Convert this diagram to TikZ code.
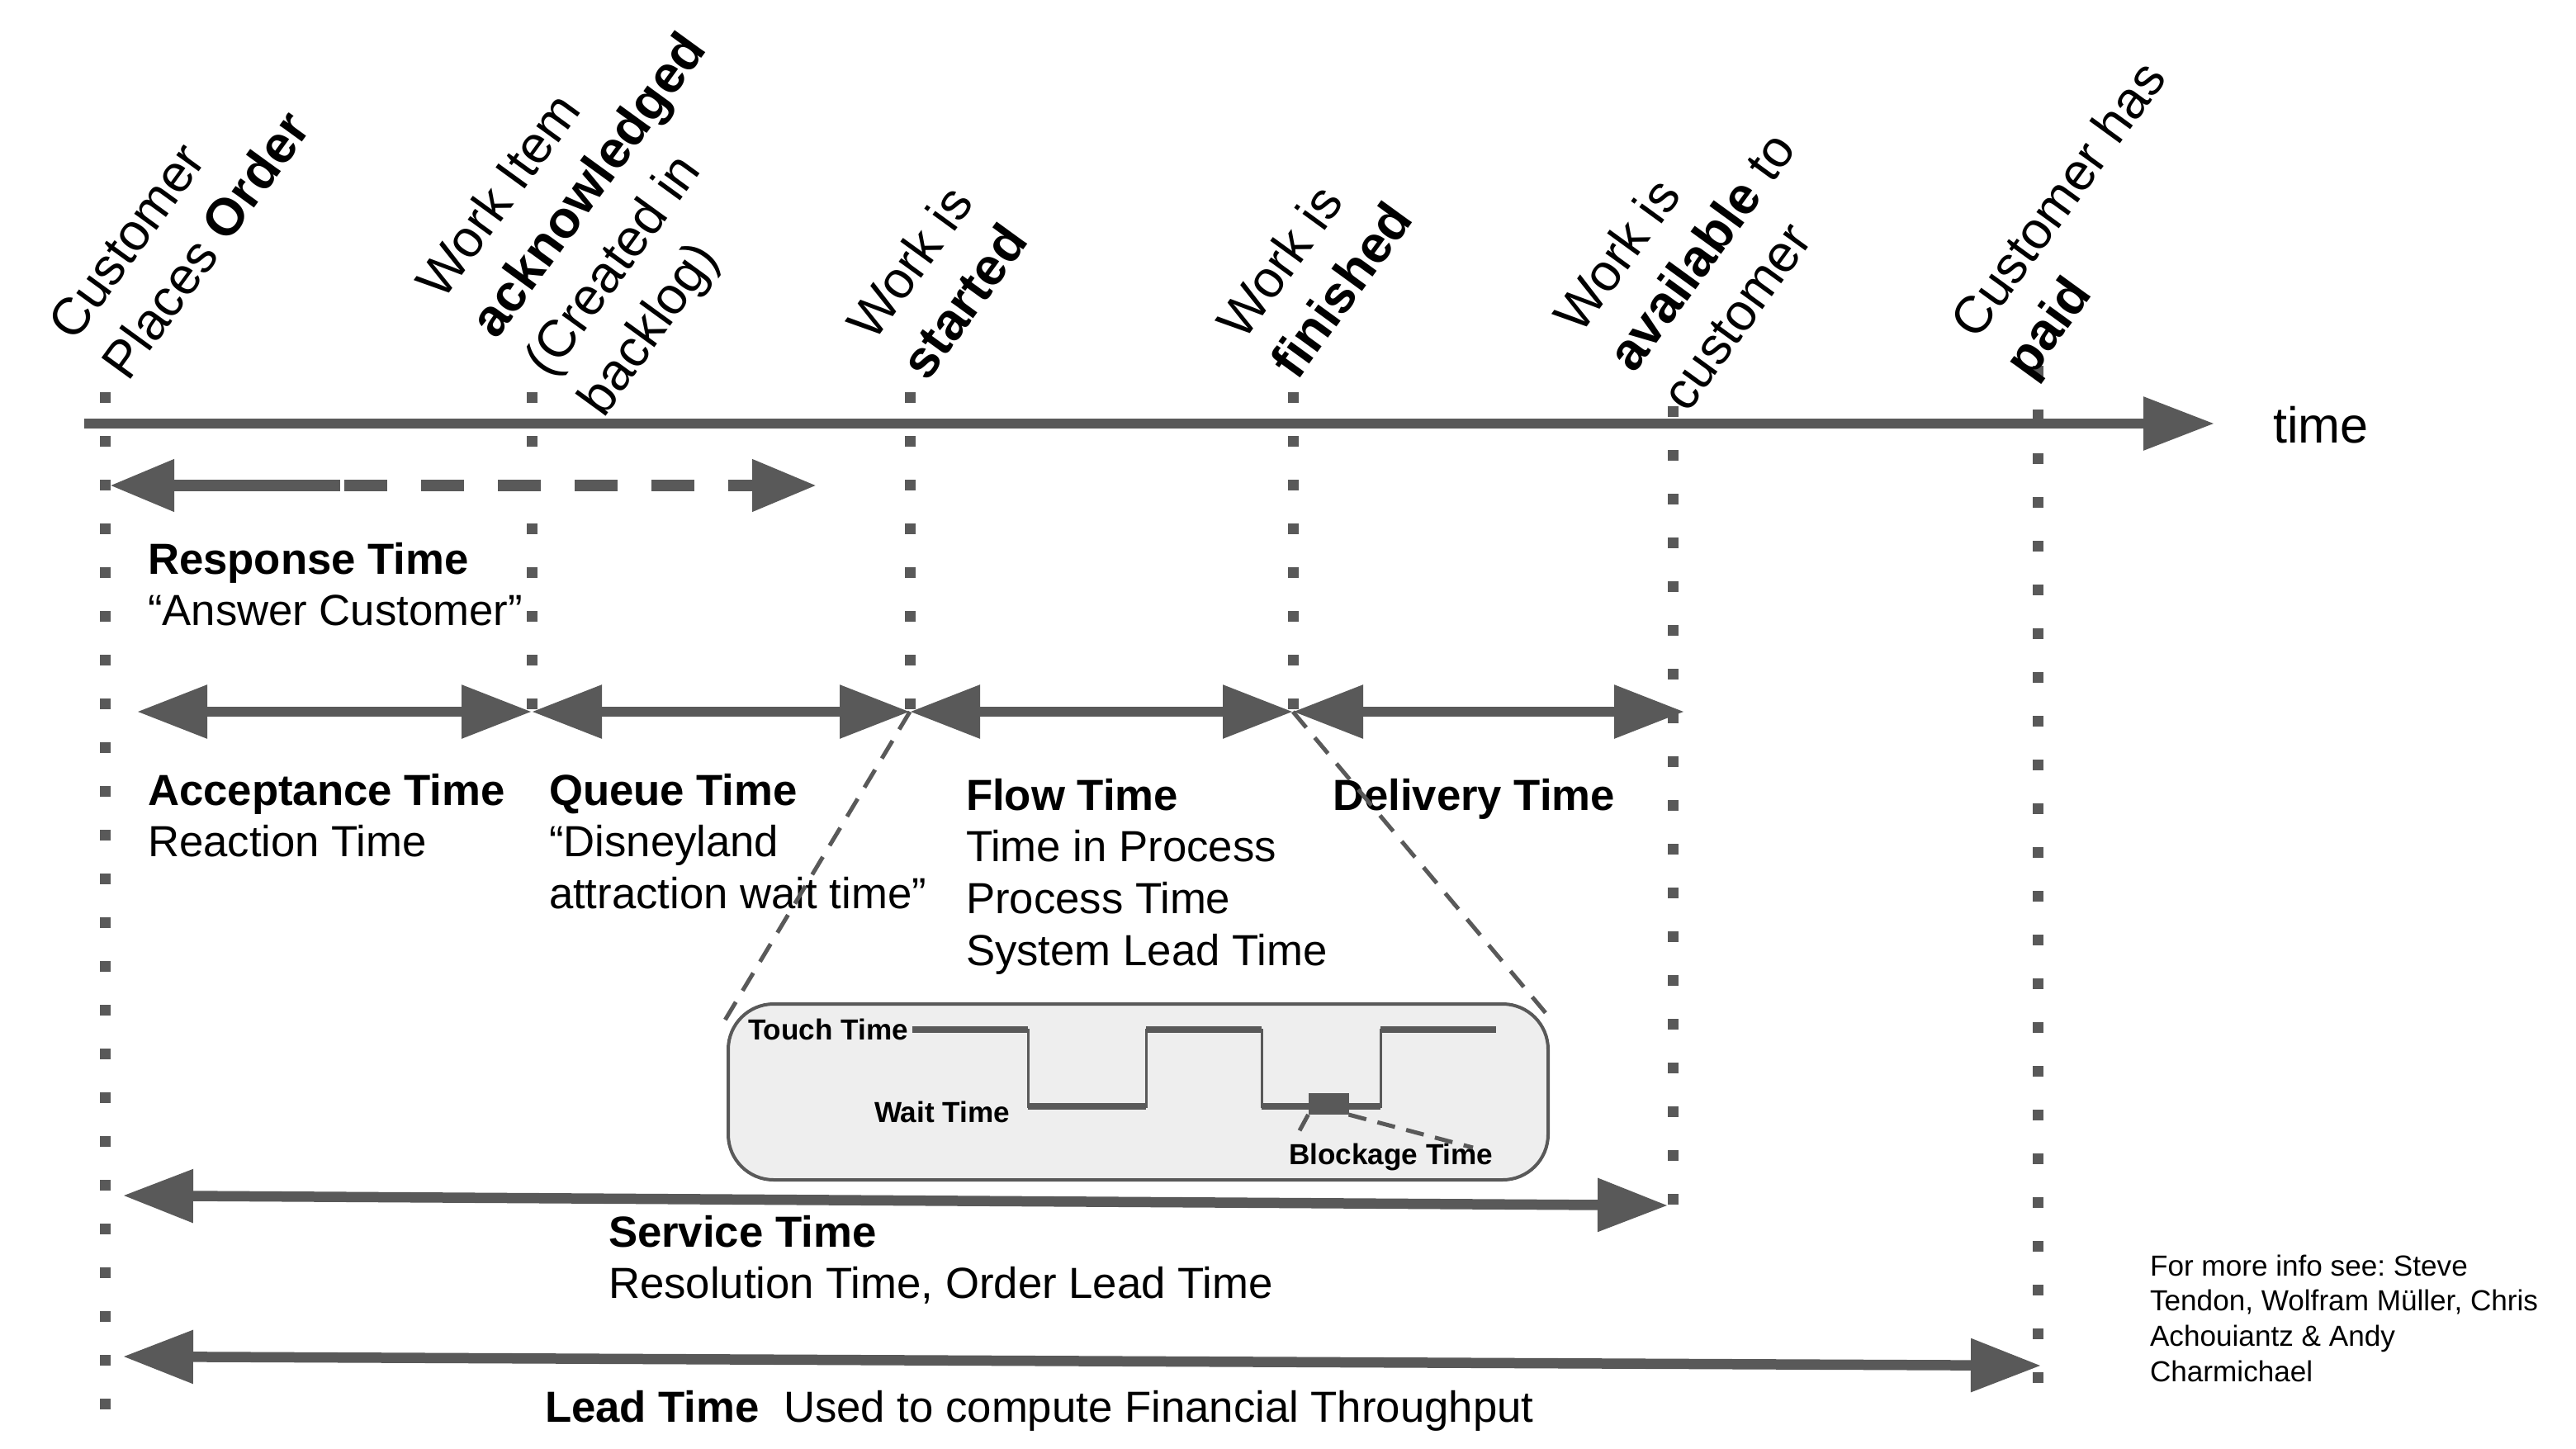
\documentclass[tikz,border=0pt]{standalone}
\usepackage{fontspec}
\setmainfont{Liberation Sans}
\usetikzlibrary{arrows.meta, positioning}
\definecolor{SlideGray}{HTML}{595959}
\definecolor{SlideLight}{HTML}{EEEEEE}
\newcommand{\upperlines}[1]{\begin{tabular}[b]{@{}l@{}}#1\end{tabular}}
\newcommand{\lowerlines}[1]{\begin{tabular}[t]{@{}l@{}}#1\end{tabular}}
\frenchspacing

\begin{document}
\begin{tikzpicture}[
    every node/.style={inner sep=0pt, outer sep=0pt, text=black},
    event/.style={anchor=base west, rotate=54, font=\fontsize{18}{22.8}\selectfont},
    label/.style={anchor=base west, font=\fontsize{15}{17.9}\selectfont},
    small/.style={anchor=base west, font=\fontsize{10}{12.2}\selectfont\bfseries},
    tick/.style={draw=SlideGray, line width=0.13cm, dash pattern=on 0.13cm off 0.40cm},
    span/.style={line width=0.125cm, SlideGray, {Triangle[length=0.85cm, width=0.62cm]}-{Triangle[length=0.85cm, width=0.62cm]}},
    zoomline/.style={SlideGray, line width=0.05cm, dash pattern=on 0.25cm off 0.16cm},
    touch/.style={SlideGray, line width=0.08cm}
]
    \path[use as bounding box, fill=white] (0,0) rectangle (31.2,-17.55);

    % event ticks
    \coordinate (order) at (1.27,-4.75);   \coordinate (order-b) at (1.27,-17.15);
    \coordinate (ack) at (6.44,-4.75);     \coordinate (ack-b) at (6.44,-8.62);
    \coordinate (start) at (11.02,-4.75);  \coordinate (start-b) at (11.02,-8.62);
    \coordinate (finish) at (15.66,-4.75); \coordinate (finish-b) at (15.66,-8.62);
    \coordinate (avail) at (20.26,-4.92);  \coordinate (avail-b) at (20.26,-14.60);
    \coordinate (paid) at (24.68,-4.43);   \coordinate (paid-b) at (24.68,-16.90);
    \draw[tick] (order) -- (order-b);
    \draw[tick] (ack) -- (ack-b);
    \draw[tick] (start) -- (start-b);
    \draw[tick] (finish) -- (finish-b);
    \draw[tick] (avail) -- (avail-b);
    \draw[tick] (paid) -- (paid-b);

    % time axis
    \coordinate (axis0) at (1.02,-5.13);
    \coordinate (axis1) at (26.82,-5.13);
    \draw[line width=0.125cm, SlideGray, -{Triangle[length=0.86cm, width=0.62cm]}] (axis0) -- (axis1);
    \node[anchor=base west, font=\fontsize{17.4}{20}\selectfont] (timelbl) at (27.53,-5.36) {time};

    \node[event] (evOrder) at (1.55,-4.63) {\upperlines{Customer\\Places \textbf{Order}}};
    \node[event] (evAck) at (7.31,-5.07) {\upperlines{Work Item\\\textbf{acknowledged}\\(Created in\\backlog)}};
    \node[event] (evStart) at (11.23,-4.63) {\upperlines{Work is\\\textbf{started}}};
    \node[event] (evFinish) at (15.71,-4.62) {\upperlines{Work is\\\textbf{finished}}};
    \node[event] (evAvail) at (20.44,-5.01) {\upperlines{Work is\\\textbf{available} to\\customer}};
    \node[event] (evPaid) at (24.59,-4.61) {\upperlines{Customer has\\\textbf{paid}}};

    % response time
    \coordinate (respL) at (1.33,-5.88);
    \coordinate (respM) at (4.12,-5.88);
    \coordinate (respN) at (4.17,-5.88);
    \coordinate (respR) at (9.89,-5.88);
    \draw[line width=0.14cm, SlideGray, {Triangle[length=0.78cm, width=0.6cm]}-] (respL) -- (respM);
    \draw[line width=0.14cm, SlideGray, dash pattern=on 0.52cm off 0.41cm, -{Triangle[length=0.78cm, width=0.6cm]}] (respN) -- (respR);
    \node[label] (resp) at (1.79,-6.95) {\lowerlines{\textbf{Response Time}\\“Answer Customer”}};

    % phases
    \coordinate (accL) at (1.66,-8.62);
    \coordinate (delR) at (20.40,-8.62);
    \draw[span] (accL) -- (ack-b);
    \draw[span] (ack-b) -- (start-b);
    \draw[span] (start-b) -- (finish-b);
    \draw[span] (finish-b) -- (delR);
    \node[label] (accept) at (1.79,-9.75) {\lowerlines{\textbf{Acceptance Time}\\Reaction Time}};
    \node[label] (queue) at (6.65,-9.75) {\lowerlines{\textbf{Queue Time}\\“Disneyland\\attraction wait time”}};
    \node[label] (flow) at (11.70,-9.81) {\lowerlines{\textbf{Flow Time}\\Time in Process\\Process Time\\System Lead Time}};
    \node[label] (deliv) at (16.14,-9.81) {\textbf{Delivery Time}};

    % zoom into flow time
    \coordinate (zoomL) at (8.73,-12.44);
    \coordinate (zoomR) at (18.73,-12.28);
    \draw[zoomline] (start-b) -- (zoomL);
    \draw[zoomline] (finish-b) -- (zoomR);
    \node[draw=SlideGray, fill=SlideLight, line width=0.04cm, rounded corners=0.55cm,
          minimum width=9.93cm, minimum height=2.13cm] (zoombox) at (13.785,-13.225) {};
    \draw[SlideGray, line width=0.03cm] (11.045,-12.47) -| (12.45,-13.40) -| (13.88,-12.47)
        -| (15.28,-13.40) -| (16.72,-12.47) -- (18.12,-12.47);
    \draw[touch] (11.045,-12.47) -- (12.45,-12.47);
    \draw[touch] (12.45,-13.40) -- (13.88,-13.40);
    \draw[touch] (13.88,-12.47) -- (15.28,-12.47);
    \draw[touch] (15.28,-13.40) -- (16.72,-13.40);
    \draw[touch] (16.72,-12.47) -- (18.12,-12.47);
    \node[fill=SlideGray, minimum width=0.49cm, minimum height=0.26cm] (block) at (16.09,-13.37) {};
    \node[small] (touchlbl) at (9.06,-12.59) {Touch Time};
    \node[small] (waitlbl) at (10.59,-13.59) {Wait Time};
    \node[small] (blocklbl) at (15.61,-14.10) {Blockage Time};
    \coordinate (blkA) at (15.72,-13.73);
    \coordinate (blkB) at (17.84,-13.90);
    \draw[zoomline, dash pattern=on 0.22cm off 0.14cm] (block.south west) -- (blkA);
    \draw[zoomline, dash pattern=on 0.22cm off 0.14cm] (block.south east) -- (blkB);

    % service and lead time
    \coordinate (servL) at (1.49,-14.48);
    \coordinate (servR) at (20.20,-14.60);
    \coordinate (leadL) at (1.49,-16.43);
    \coordinate (leadR) at (24.72,-16.54);
    \draw[span] (servL) -- (servR);
    \draw[span] (leadL) -- (leadR);
    \node[label] (service) at (7.37,-15.10) {\lowerlines{\textbf{Service Time}\\Resolution Time, Order Lead Time}};
    \node[label] (lead) at (6.60,-17.22) {\textbf{Lead Time}\ \ Used to compute Financial Throughput};

    \node[anchor=base west, font=\fontsize{10}{12.2}\selectfont] (source) at (26.04,-15.45)
        {\lowerlines{For more info see: Steve\\Tendon, Wolfram Müller, Chris\\Achouiantz \& Andy\\Charmichael}};
\end{tikzpicture}
\end{document}
